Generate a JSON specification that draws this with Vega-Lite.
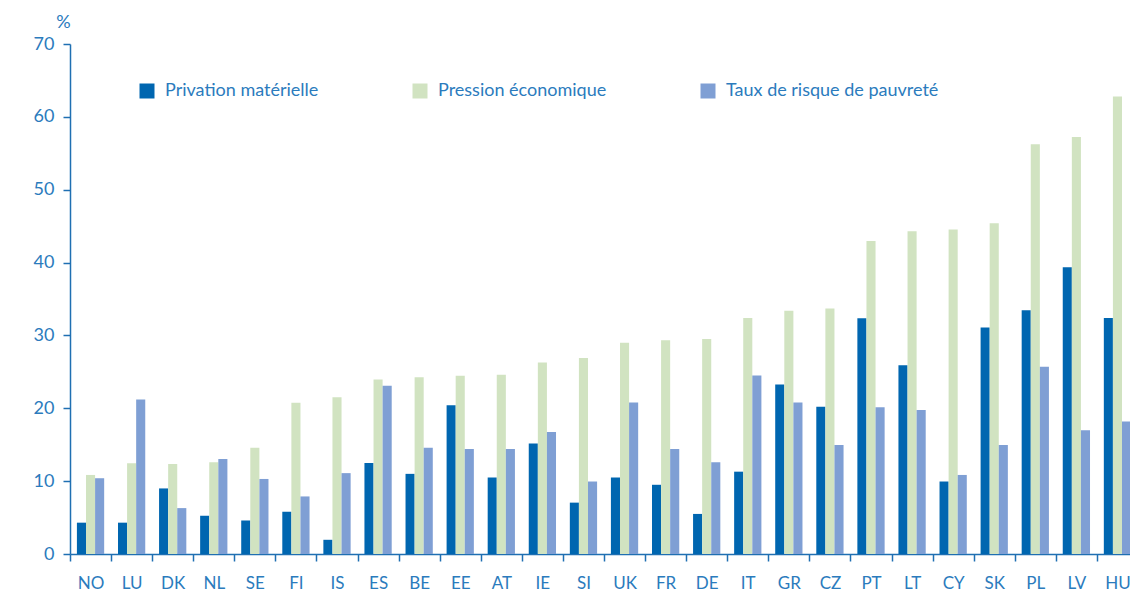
{
  "$schema": "https://vega.github.io/schema/vega-lite/v6.json",
  "width": 1060,
  "height": 510,
  "autosize": {"type": "none"},
  "padding": {"left": 70, "top": 44, "right": 0, "bottom": 39},
  "background": "white",
  "config": {
    "font": "Lato",
    "view": {"stroke": null},
    "axis": {"domainColor": "#1f6fb2", "tickColor": "#1f6fb2", "labelColor": "#2b7bbd", "titleColor": "#2b7bbd", "labelFont": "Lato", "titleFont": "Lato", "domainWidth": 1.5, "tickWidth": 1.5}
  },
  "data": {"values": [
    {"pays": "NO", "serie": "Privation matérielle", "valeur": 4.3},
    {"pays": "NO", "serie": "Pression économique", "valeur": 10.85},
    {"pays": "NO", "serie": "Taux de risque de pauvreté", "valeur": 10.4},
    {"pays": "LU", "serie": "Privation matérielle", "valeur": 4.3},
    {"pays": "LU", "serie": "Pression économique", "valeur": 12.45},
    {"pays": "LU", "serie": "Taux de risque de pauvreté", "valeur": 21.2},
    {"pays": "DK", "serie": "Privation matérielle", "valeur": 9.0},
    {"pays": "DK", "serie": "Pression économique", "valeur": 12.35},
    {"pays": "DK", "serie": "Taux de risque de pauvreté", "valeur": 6.3},
    {"pays": "NL", "serie": "Privation matérielle", "valeur": 5.25},
    {"pays": "NL", "serie": "Pression économique", "valeur": 12.6},
    {"pays": "NL", "serie": "Taux de risque de pauvreté", "valeur": 13.05},
    {"pays": "SE", "serie": "Privation matérielle", "valeur": 4.6},
    {"pays": "SE", "serie": "Pression économique", "valeur": 14.6},
    {"pays": "SE", "serie": "Taux de risque de pauvreté", "valeur": 10.3},
    {"pays": "FI", "serie": "Privation matérielle", "valeur": 5.8},
    {"pays": "FI", "serie": "Pression économique", "valeur": 20.75},
    {"pays": "FI", "serie": "Taux de risque de pauvreté", "valeur": 7.9},
    {"pays": "IS", "serie": "Privation matérielle", "valeur": 1.95},
    {"pays": "IS", "serie": "Pression économique", "valeur": 21.5},
    {"pays": "IS", "serie": "Taux de risque de pauvreté", "valeur": 11.1},
    {"pays": "ES", "serie": "Privation matérielle", "valeur": 12.5},
    {"pays": "ES", "serie": "Pression économique", "valeur": 23.95},
    {"pays": "ES", "serie": "Taux de risque de pauvreté", "valeur": 23.1},
    {"pays": "BE", "serie": "Privation matérielle", "valeur": 11.0},
    {"pays": "BE", "serie": "Pression économique", "valeur": 24.25},
    {"pays": "BE", "serie": "Taux de risque de pauvreté", "valeur": 14.6},
    {"pays": "EE", "serie": "Privation matérielle", "valeur": 20.4},
    {"pays": "EE", "serie": "Pression économique", "valeur": 24.45},
    {"pays": "EE", "serie": "Taux de risque de pauvreté", "valeur": 14.4},
    {"pays": "AT", "serie": "Privation matérielle", "valeur": 10.5},
    {"pays": "AT", "serie": "Pression économique", "valeur": 24.6},
    {"pays": "AT", "serie": "Taux de risque de pauvreté", "valeur": 14.4},
    {"pays": "IE", "serie": "Privation matérielle", "valeur": 15.15},
    {"pays": "IE", "serie": "Pression économique", "valeur": 26.3},
    {"pays": "IE", "serie": "Taux de risque de pauvreté", "valeur": 16.75},
    {"pays": "SI", "serie": "Privation matérielle", "valeur": 7.05},
    {"pays": "SI", "serie": "Pression économique", "valeur": 26.9},
    {"pays": "SI", "serie": "Taux de risque de pauvreté", "valeur": 9.95},
    {"pays": "UK", "serie": "Privation matérielle", "valeur": 10.5},
    {"pays": "UK", "serie": "Pression économique", "valeur": 29.0},
    {"pays": "UK", "serie": "Taux de risque de pauvreté", "valeur": 20.8},
    {"pays": "FR", "serie": "Privation matérielle", "valeur": 9.5},
    {"pays": "FR", "serie": "Pression économique", "valeur": 29.35},
    {"pays": "FR", "serie": "Taux de risque de pauvreté", "valeur": 14.4},
    {"pays": "DE", "serie": "Privation matérielle", "valeur": 5.5},
    {"pays": "DE", "serie": "Pression économique", "valeur": 29.5},
    {"pays": "DE", "serie": "Taux de risque de pauvreté", "valeur": 12.6},
    {"pays": "IT", "serie": "Privation matérielle", "valeur": 11.3},
    {"pays": "IT", "serie": "Pression économique", "valeur": 32.4},
    {"pays": "IT", "serie": "Taux de risque de pauvreté", "valeur": 24.5},
    {"pays": "GR", "serie": "Privation matérielle", "valeur": 23.25},
    {"pays": "GR", "serie": "Pression économique", "valeur": 33.4},
    {"pays": "GR", "serie": "Taux de risque de pauvreté", "valeur": 20.8},
    {"pays": "CZ", "serie": "Privation matérielle", "valeur": 20.2},
    {"pays": "CZ", "serie": "Pression économique", "valeur": 33.7},
    {"pays": "CZ", "serie": "Taux de risque de pauvreté", "valeur": 14.95},
    {"pays": "PT", "serie": "Privation matérielle", "valeur": 32.35},
    {"pays": "PT", "serie": "Pression économique", "valeur": 42.95},
    {"pays": "PT", "serie": "Taux de risque de pauvreté", "valeur": 20.15},
    {"pays": "LT", "serie": "Privation matérielle", "valeur": 25.9},
    {"pays": "LT", "serie": "Pression économique", "valeur": 44.3},
    {"pays": "LT", "serie": "Taux de risque de pauvreté", "valeur": 19.75},
    {"pays": "CY", "serie": "Privation matérielle", "valeur": 9.95},
    {"pays": "CY", "serie": "Pression économique", "valeur": 44.55},
    {"pays": "CY", "serie": "Taux de risque de pauvreté", "valeur": 10.85},
    {"pays": "SK", "serie": "Privation matérielle", "valeur": 31.1},
    {"pays": "SK", "serie": "Pression économique", "valeur": 45.4},
    {"pays": "SK", "serie": "Taux de risque de pauvreté", "valeur": 14.95},
    {"pays": "PL", "serie": "Privation matérielle", "valeur": 33.45},
    {"pays": "PL", "serie": "Pression économique", "valeur": 56.25},
    {"pays": "PL", "serie": "Taux de risque de pauvreté", "valeur": 25.7},
    {"pays": "LV", "serie": "Privation matérielle", "valeur": 39.35},
    {"pays": "LV", "serie": "Pression économique", "valeur": 57.25},
    {"pays": "LV", "serie": "Taux de risque de pauvreté", "valeur": 17.0},
    {"pays": "HU", "serie": "Privation matérielle", "valeur": 32.4},
    {"pays": "HU", "serie": "Pression économique", "valeur": 62.8},
    {"pays": "HU", "serie": "Taux de risque de pauvreté", "valeur": 18.2}
  ]},
  "mark": {"type": "bar"},
  "encoding": {
    "x": {
      "field": "pays", "type": "nominal", "sort": null,
      "scale": {"range": [0, 1068], "paddingInner": 0, "paddingOuter": 0},
      "axis": {"title": null, "labelAngle": 0, "labelFontSize": 17, "labelPadding": 14, "tickSize": 7, "tickBand": "extent", "labelBaseline": "top"}
    },
    "xOffset": {
      "field": "serie", "type": "nominal",
      "sort": ["Privation matérielle", "Pression économique", "Taux de risque de pauvreté"],
      "scale": {"paddingInner": 0, "paddingOuter": 0.76}
    },
    "y": {
      "field": "valeur", "type": "quantitative",
      "scale": {"domain": [0, 70], "nice": false},
      "axis": {"values": [0, 10, 20, 30, 40, 50, 60, 70], "grid": false, "tickSize": 7, "labelPadding": 9, "labelFontSize": 18, "title": "%", "titleAngle": 0, "titleFontSize": 18, "titleFontWeight": "normal", "titleX": -7, "titleY": -22, "titleAlign": "center", "titleBaseline": "middle"}
    },
    "color": {
      "field": "serie", "type": "nominal",
      "scale": {"domain": ["Privation matérielle", "Pression économique", "Taux de risque de pauvreté"], "range": ["#0066b0", "#d1e3c1", "#7f9fd4"]},
      "legend": {"title": null, "orient": "none", "legendX": 68, "legendY": 38, "direction": "horizontal", "symbolType": "square", "symbolSize": 225, "symbolStrokeWidth": 0, "labelFontSize": 18, "labelColor": "#2b7bbd", "labelOffset": 9, "columnPadding": 92, "padding": 0, "labelLimit": 400}
    }
  }
}
